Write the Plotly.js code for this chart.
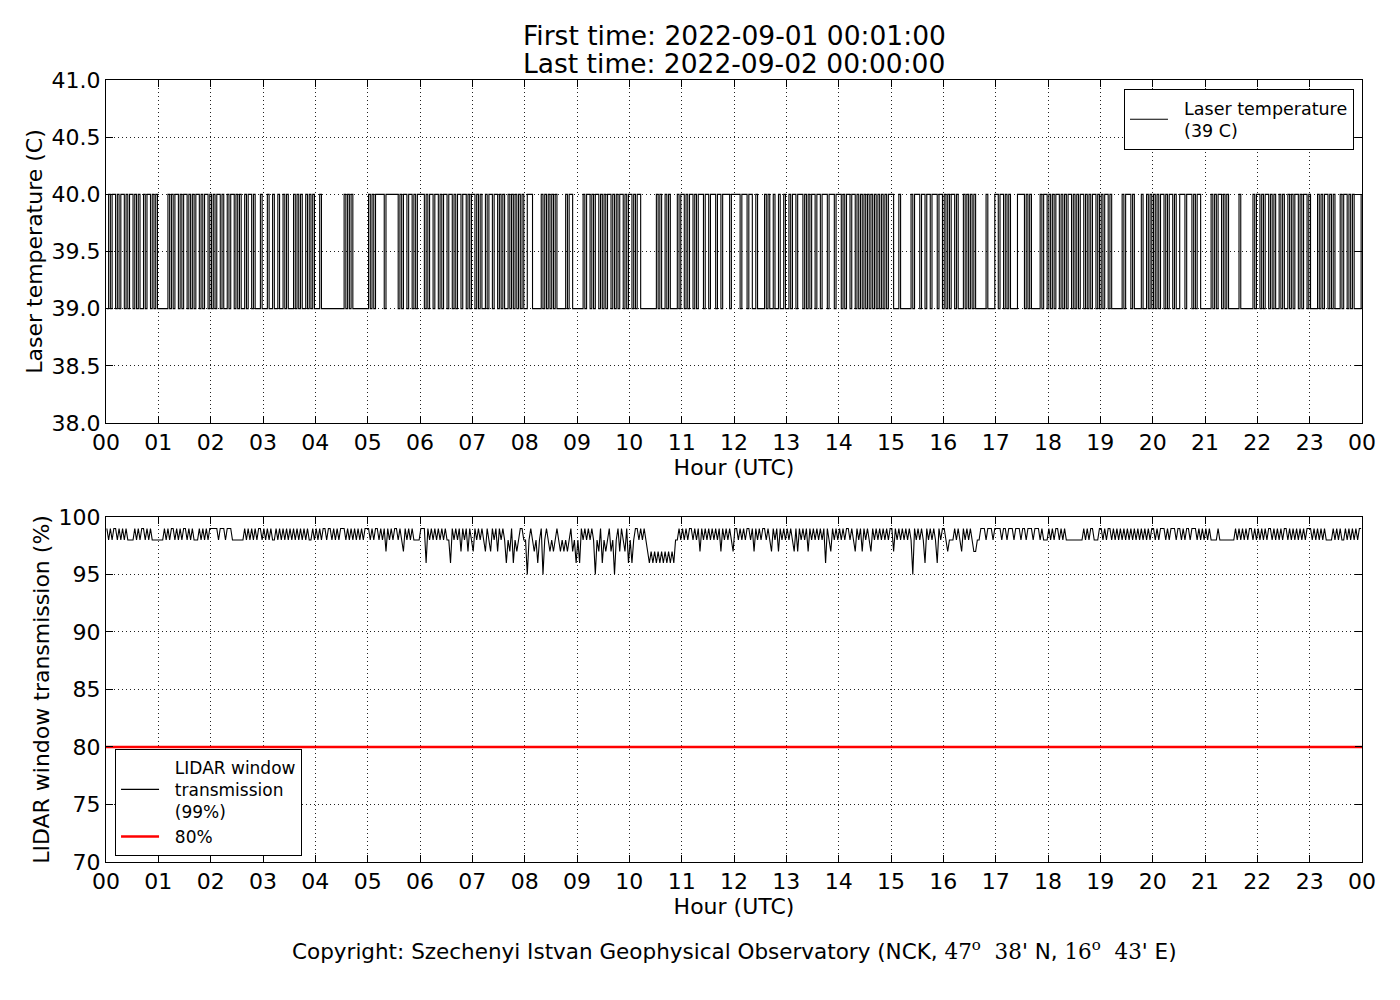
<!DOCTYPE html>
<html>
<head>
<meta charset="utf-8">
<script src="https://cdn.plot.ly/plotly-3.0.1.min.js"></script>
<style>
  body { margin: 0; background: #fff; }
  #chart { width: 1400px; height: 1000px; }
</style>
</head>
<body>
<div id="chart"></div>
<script>
// hour axis
const hourTicks = [0, 1, 2, 3, 4, 5, 6, 7, 8, 9, 10, 11, 12, 13, 14, 15, 16, 17, 18, 19, 20, 21, 22, 23, 24];
const hourLabels = ['00', '01', '02', '03', '04', '05', '06', '07', '08', '09', '10', '11',
  '12', '13', '14', '15', '16', '17', '18', '19', '20', '21', '22', '23', '00'];

// laser temperature, one row per hour, one digit per 2 minutes (digit = temperature - 39 C)
const laserTempRows = [
  '010110101101011010100101101010',
  '000001010110101101010110101101',
  '010110100101101010010110100010',
  '001001001001010001010100101010',
  '001000000000000010101000000000',
  '101011111011111110101101101011',
  '110101101101011011010110110101',
  '101010010110110101001010101010',
  '011100000101010101000001011000',
  '000101101011010101101010110101',
  '101011000000000101001010000101',
  '101011010111011011101101111011',
  '111011101100100001010010010010',
  '010110111010101101101110111011',
  '101011011010101010101010101011',
  '100010000001011101101101110110',
  '101011010001010101000000100001',
  '101101010000111101010000010110',
  '101011010101101010110101011010',
  '101101000000101110100001001010',
  '101011010110100111011101011000',
  '000101011010100000010000000101',
  '101011010100101001010110101101',
  '000010101101010001011010100001'
];

// LIDAR window transmission, one row per hour, one digit per 2 minutes (digit = % - 90)
const transmissionRows = [
  '989899898989888898989989898888',
  '888989899898989989898889898989',
  '999989998999888888898989898998',
  '989898898989898989898989898898',
  '989899899898989998989898989899',
  '989899898979898998987989898888',
  '999698989898989886989897989798',
  '798989879879897989868796878998',
  '858987868958987878987878789786',
  '869898989858796878978589798796',
  '868998989876767676767676768898',
  '989899898979898989898979898987',
  '998989899897989899898798979898',
  '989879798989798989898969879898',
  '989899898798979898798989898989',
  '979898989898598989869898986989',
  '987888989879898987788999899989',
  '999899899989998998999899989888',
  '989899898988888888889898998889',
  '989899898989898989898989898989',
  '989899989899989989899899989898',
  '989888898888888889898989899898',
  '989898998989898998989898989899',
  '989898989888898989889898989899'
];

const transmissionLimit = 80;

const titleLines = ['First time: 2022-09-01 00:01:00', 'Last time: 2022-09-02 00:00:00'];

const laserTemp = laserTempRows.join('').split('').map(d => 39 + Number(d));
const transmission = transmissionRows.join('').split('').map(d => 90 + Number(d));
// sample times in hours, first sample at 00:01, every 2 minutes
const sampleHours = laserTemp.map((v, i) => (1 + 2 * i) / 60);

const FONT = 'DejaVu Sans, Liberation Sans, sans-serif';
const SIZE = 22;
const PAD = '\u00a0\u00a0';

// legend labels, padded so the text sits clear of the line sample
const legendName = (lines) => lines.map(s => PAD + s).join('<br>');

const traceTemp = {
  name: legendName(['Laser temperature', '(39 C)']),
  x: sampleHours,
  y: laserTemp,
  xaxis: 'x',
  yaxis: 'y',
  type: 'scatter',
  mode: 'lines',
  line: { color: '#000', width: 1.1, shape: 'hv' },
  legend: 'legend',
};

const traceTrans = {
  name: legendName(['LIDAR window', 'transmission', '(99%)']),
  x: sampleHours,
  y: transmission,
  xaxis: 'x2',
  yaxis: 'y2',
  type: 'scatter',
  mode: 'lines',
  line: { color: '#000', width: 1.1 },
  legend: 'legend2',
};

const traceLimit = {
  name: legendName(['80%']),
  x: [hourTicks[0], hourTicks[hourTicks.length - 1]],
  y: [transmissionLimit, transmissionLimit],
  xaxis: 'x2',
  yaxis: 'y2',
  type: 'scatter',
  mode: 'lines',
  line: { color: '#ff0000', width: 2.5 },
  legend: 'legend2',
};

const axisBase = {
  showline: true,
  linecolor: '#000',
  linewidth: 1,
  mirror: 'ticks',
  ticks: 'inside',
  ticklen: 7,
  tickcolor: '#000',
  showgrid: true,
  gridcolor: '#222',
  gridwidth: 1,
  griddash: '1px,3px',
  zeroline: false,
  tickfont: { family: FONT, size: SIZE, color: '#000' },
  automargin: false,
};

const xBase = Object.assign({}, axisBase, {
  range: [0, 24],
  tickmode: 'array',
  tickvals: hourTicks,
  ticktext: hourLabels,
  title: { text: 'Hour (UTC)', font: { family: FONT, size: SIZE, color: '#000' }, standoff: 0 },
});

const legendBase = {
  bgcolor: '#fff',
  bordercolor: '#000',
  borderwidth: 1,
  font: { family: FONT, size: 17.5, color: '#000' },
  itemwidth: 38,
  tracegroupgap: 0,
};

const layout = {
  width: 1400,
  height: 1000,
  paper_bgcolor: '#fff',
  plot_bgcolor: '#fff',
  margin: { l: 106, r: 38, t: 80, b: 138 },
  font: { family: FONT, color: '#000' },
  xaxis: Object.assign({}, xBase, { anchor: 'y', domain: [0, 1] }),
  yaxis: Object.assign({}, axisBase, {
    anchor: 'x',
    domain: [0.5614, 1],
    range: [38, 41],
    dtick: 0.5,
    tickformat: '.1f',
    title: { text: 'Laser temperature (C)', font: { family: FONT, size: SIZE, color: '#000' }, standoff: 2 },
  }),
  xaxis2: Object.assign({}, xBase, { anchor: 'y2', domain: [0, 1] }),
  yaxis2: Object.assign({}, axisBase, {
    anchor: 'x2',
    domain: [0, 0.4412],
    range: [70, 100],
    dtick: 5,
    title: { text: 'LIDAR window transmission (%)', font: { family: FONT, size: SIZE, color: '#000' }, standoff: 2 },
  }),
  legend: Object.assign({}, legendBase, {
    x: 0.9936,
    xanchor: 'right',
    y: 0.9885,
    yanchor: 'top',
  }),
  legend2: Object.assign({}, legendBase, {
    font: { family: FONT, size: 17, color: '#000' },
    x: 0.0072,
    xanchor: 'left',
    y: 0.008,
    yanchor: 'bottom',
  }),
  showlegend: true,
  annotations: [
    {
      text: titleLines[0],
      xref: 'paper', yref: 'paper', x: 0.5, y: 1.0565,
      xanchor: 'center', yanchor: 'middle', showarrow: false,
      font: { family: FONT, size: 26.5, color: '#000' },
    },
    {
      text: titleLines[1],
      xref: 'paper', yref: 'paper', x: 0.5, y: 1.0205,
      xanchor: 'center', yanchor: 'middle', showarrow: false,
      font: { family: FONT, size: 26.5, color: '#000' },
    },
    {
      text: 'Copyright: Szechenyi Istvan Geophysical Observatory (NCK, ' +
        '<span style="font-family:DejaVu Serif">47<sup>o</sup>  38</span>\' N, ' +
        '<span style="font-family:DejaVu Serif">16<sup>o</sup>  43</span>\' E)',
      xref: 'paper', yref: 'paper', x: 0.5, y: -0.1125,
      xanchor: 'center', yanchor: 'middle', showarrow: false,
      font: { family: FONT, size: 21.5, color: '#000' },
    },
  ],
};

const config = { staticPlot: true, responsive: false };

// eslint-disable-next-line no-undef
Plotly.newPlot('chart', [traceTemp, traceTrans, traceLimit], layout, config);
</script>
</body>
</html>
